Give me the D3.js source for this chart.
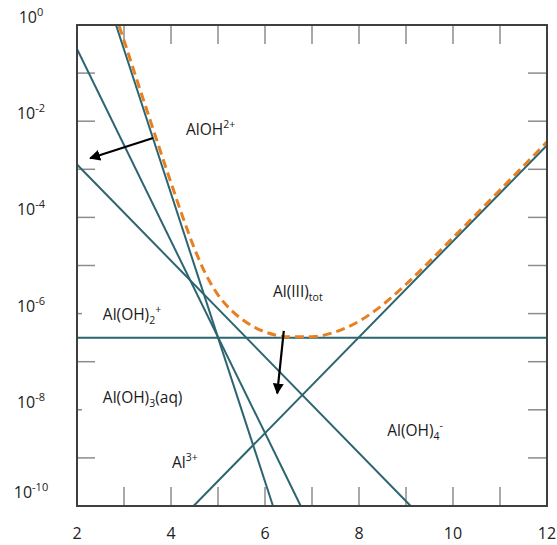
<!DOCTYPE html>
<html>
<head>
<meta charset="utf-8">
<script src="https://cdn.jsdelivr.net/npm/d3@7/dist/d3.min.js"></script>
<style>
  html, body { margin: 0; padding: 0; background: #fff; }
  svg { display: block; font-family: "Open Sans", "Liberation Sans", sans-serif; }
</style>
</head>
<body>
<svg id="chart" width="557" height="545"></svg>
<script>
// Al(III) species vs pH, straight lines in log C given by their end points [pH, log C]
const al3    = [[2.83, 0], [6.17, -10]];
const alOH   = [[2.0, -0.5], [6.76, -10]];
const alOH2  = [[2.0, -2.9], [9.1, -10]];
const alOH3  = [[2.0, -6.5], [12.0, -6.5]];
const alOH4  = [[4.48, -10], [12.0, -2.5]];

// total dissolved Al(III)
const totPH   = [2.8, 3.0, 3.25, 3.5, 3.75, 4.0, 4.25, 4.5, 4.75, 5.0, 5.25, 5.5, 5.75, 6.0, 6.5, 7.0, 7.5, 8.0, 8.5, 9.0, 10, 11, 12];
const totLogC = [0.25, -0.32, -1.07, -1.81, -2.55, -3.28, -3.99, -4.65, -5.20, -5.61, -5.90, -6.11, -6.27, -6.38, -6.48, -6.48, -6.38, -6.16, -5.82, -5.39, -4.42, -3.43, -2.43];

// axis ticks
const xTicks = [2, 3, 4, 5, 6, 7, 8, 9, 10, 11, 12];
const xTickLabels = [2, 4, 6, 8, 10, 12];
const yTicks = [0, -1, -2, -3, -4, -5, -6, -7, -8, -9, -10];
const yTickLabels = [0, -2, -4, -6, -8, -10];
const yShortTicks = [-6, -8];

// arrows [from, to] in [pH, log C]
const arrows = [
  [[3.62, -2.35], [2.28, -2.77]],
  [[6.40, -6.36], [6.26, -7.66]]
];

const svg = d3.select("#chart");
const pL = 77, pR = 547, pT = 25, pB = 506;

const x = d3.scaleLinear().domain([2, 12]).range([pL, pR]);
const y = d3.scaleLinear().domain([-10, 0]).range([pB, pT]);

const teal = "#2c6571";
const orange = "#e8801f";
const tickCol = "#8c8c8c";
const frameCol = "#3f3f3f";

const defs = svg.append("defs");
defs.append("clipPath").attr("id", "plotClip")
  .append("rect").attr("x", pL).attr("y", pT)
  .attr("width", pR - pL).attr("height", pB - pT);
defs.append("marker").attr("id", "head")
  .attr("viewBox", "0 0 10 10").attr("refX", 9).attr("refY", 5)
  .attr("markerWidth", 5).attr("markerHeight", 5)
  .attr("orient", "auto")
  .append("path").attr("d", "M0,0 L10,5 L0,10 Z").attr("fill", "#000");

// ticks (inside the frame)
const tickG = svg.append("g").attr("stroke", tickCol).attr("stroke-width", 1.5);
xTicks.slice(1, -1).forEach(v => {
  tickG.append("line").attr("x1", x(v)).attr("x2", x(v)).attr("y1", pB).attr("y2", pB - 19);
  tickG.append("line").attr("x1", x(v)).attr("x2", x(v)).attr("y1", pT).attr("y2", pT + 19);
});
yTicks.slice(1, -1).forEach(v => {
  const len = yShortTicks.includes(v) ? 5 : 18;
  tickG.append("line").attr("x1", pL).attr("x2", pL + len).attr("y1", y(v)).attr("y2", y(v));
  tickG.append("line").attr("x1", pR).attr("x2", pR - 19).attr("y1", y(v)).attr("y2", y(v));
});

// species lines
const line = d3.line().x(d => x(d[0])).y(d => y(d[1]));
const plot = svg.append("g").attr("clip-path", "url(#plotClip)");
[al3, alOH, alOH2, alOH3, alOH4].forEach(s => {
  plot.append("path").attr("d", line(s))
    .attr("fill", "none").attr("stroke", teal).attr("stroke-width", 2);
});

// total Al(III)
const tot = totPH.map((p, i) => [p, totLogC[i]]);
plot.append("path")
  .attr("d", d3.line().x(d => x(d[0])).y(d => y(d[1])).curve(d3.curveMonotoneX)(tot))
  .attr("fill", "none").attr("stroke", orange).attr("stroke-width", 3)
  .attr("stroke-dasharray", "9,5");

// frame
svg.append("rect").attr("x", pL).attr("y", pT)
  .attr("width", pR - pL).attr("height", pB - pT)
  .attr("fill", "none").attr("stroke", frameCol).attr("stroke-width", 2);

// arrows
arrows.forEach(a => {
  svg.append("line")
    .attr("x1", x(a[0][0])).attr("y1", y(a[0][1]))
    .attr("x2", x(a[1][0])).attr("y2", y(a[1][1]))
    .attr("stroke", "#000").attr("stroke-width", 2.2)
    .attr("marker-end", "url(#head)");
});

// axis labels
xTickLabels.forEach(v => {
  svg.append("text").attr("x", x(v)).attr("y", 539)
    .attr("text-anchor", "middle").attr("font-size", 16).attr("fill", "#222")
    .text(v);
});
yTickLabels.forEach(v => {
  const t = svg.append("text").attr("x", 31).attr("y", y(v) - (v === -10 ? 8 : 2))
    .attr("text-anchor", "middle").attr("font-size", 16).attr("fill", "#222");
  t.append("tspan").text("10");
  t.append("tspan").attr("font-size", 11).attr("dy", -7).text(v);
});

// species labels: parts are [text, kind] with kind "", "sub" or "sup"
function label(px, lc, parts) {
  const t = svg.append("text").attr("x", x(px)).attr("y", y(lc))
    .attr("font-size", 15.5).attr("fill", "#1a1a1a");
  let shift = 0;
  parts.forEach(([s, kind]) => {
    const target = kind === "sub" ? 4 : kind === "sup" ? -7 : 0;
    t.append("tspan").attr("dy", target - shift)
      .attr("font-size", kind ? 10.5 : 15.5).text(s);
    shift = target;
  });
}
label(4.32, -2.29, [["AlOH", ""], ["2+", "sup"]]);
label(6.17, -5.65, [["Al(III)", ""], ["tot", "sub"]]);
label(2.55, -6.13, [["Al(OH)", ""], ["2", "sub"], ["+", "sup"]]);
label(2.55, -7.86, [["Al(OH)", ""], ["3", "sub"], ["(aq)", ""]]);
label(4.02, -9.21, [["Al", ""], ["3+", "sup"]]);
label(8.60, -8.55, [["Al(OH)", ""], ["4", "sub"], ["-", "sup"]]);
</script>
</body>
</html>
